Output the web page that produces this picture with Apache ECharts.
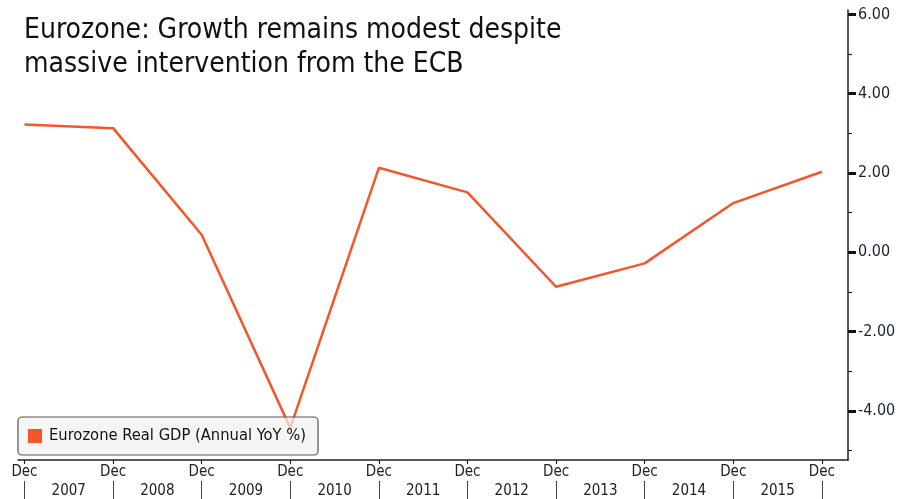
<!DOCTYPE html>
<html>
<head>
<meta charset="utf-8">
<script src="https://cdn.jsdelivr.net/npm/echarts@6/dist/echarts.min.js"></script>
<style>
html,body{margin:0;padding:0;background:#fff;}
#c{width:912px;height:499px;}
</style>
</head>
<body>
<div id="c"></div>
<script>
var tickLabels = ['Dec','Dec','Dec','Dec','Dec','Dec','Dec','Dec','Dec','Dec'];
var yearLabels = ['2007','2008','2009','2010','2011','2012','2013','2014','2015'];
var gdpValues = [3.22, 3.13, 0.44, -4.43, 2.13, 1.51, -0.87, -0.28, 1.24, 2.03];
var yMajor = [-4, -2, 0, 2, 4, 6];
var yMinor = [-5, -3, -1, 1, 3, 5];
var seriesName = 'Eurozone Real GDP (Annual YoY %)';
var titleText = 'Eurozone: Growth remains modest despite\nmassive intervention from the ECB';

var tickPos = tickLabels.map(function(_, i){ return i; });
var yearPos = yearLabels.map(function(_, i){ return i + 0.5; });
var font = '"DejaVu Sans Condensed", "DejaVu Sans", sans-serif';
var orange = '#f4562a';

var chart = echarts.init(document.getElementById('c'), null, {renderer:'canvas'});
chart.setOption({
  animation: false,
  backgroundColor: '#ffffff',
  title: {
    text: titleText,
    left: 19, top: 9,
    textStyle: {fontFamily: font, fontSize: 28, fontWeight: 'normal', color: '#111', lineHeight: 34}
  },
  legend: {
    data: [seriesName],
    left: 18, top: 417,
    icon: 'rect', itemWidth: 14, itemHeight: 14, itemGap: 6,
    padding: [11, 12, 11, 10],
    backgroundColor: 'rgba(240,242,240,0.72)',
    borderColor: '#555', borderWidth: 1.2, borderRadius: 4,
    textStyle: {fontFamily: font, fontSize: 16.4, color: '#111', padding: [0, 0, 0, 2]}
  },
  grid: {left: 18, right: 64, top: 10, bottom: 39, containLabel: false},
  xAxis: [{
    type: 'value', min: -0.073, max: 9.295, position: 'bottom',
    axisLine: {show: true, onZero: false, lineStyle: {color: '#222', width: 1.5}},
    axisTick: {show: true, customValues: tickPos, length: 4, lineStyle: {color: '#222', width: 1.2}},
    axisLabel: {show: true, customValues: tickPos, margin: 5,
      formatter: function(v){ return tickLabels[Math.round(v)] || ''; },
      fontFamily: font, fontSize: 15, color: '#222'},
    splitLine: {show: false}
  }, {
    type: 'value', min: -0.073, max: 9.295, position: 'bottom', offset: 21,
    axisLine: {show: false, onZero: false},
    axisTick: {show: true, customValues: tickPos, length: 18, lineStyle: {color: '#444', width: 1}},
    axisLabel: {show: true, customValues: yearPos, margin: 3,
      formatter: function(v){ return yearLabels[Math.floor(v)] || ''; },
      fontFamily: font, fontSize: 15, color: '#222'},
    splitLine: {show: false}
  }],
  yAxis: [{
    type: 'value', position: 'right', min: -5.24, max: 6.11,
    axisLine: {show: true, onZero: false, lineStyle: {color: '#222', width: 1.5}},
    axisTick: {show: true, customValues: yMinor, length: 4, lineStyle: {color: '#222', width: 1.2}},
    axisLabel: {show: true, customValues: yMajor, margin: 10,
      formatter: function(v){ return v.toFixed(2); },
      fontFamily: font, fontSize: 16, color: '#1a2233'},
    splitLine: {show: false}
  }, {
    type: 'value', position: 'right', min: -5.24, max: 6.11,
    axisLine: {show: false, onZero: false},
    axisTick: {show: true, customValues: yMajor, length: 8, lineStyle: {color: '#111', width: 3}},
    axisLabel: {show: false},
    splitLine: {show: false}
  }],
  series: [{
    name: seriesName,
    type: 'line',
    xAxisIndex: 0, yAxisIndex: 0,
    data: gdpValues.map(function(v, i){ return [tickPos[i], v]; }),
    symbol: 'none',
    lineStyle: {color: orange, width: 2.5},
    itemStyle: {color: orange},
    z: 1
  }]
});
</script>
</body>
</html>
